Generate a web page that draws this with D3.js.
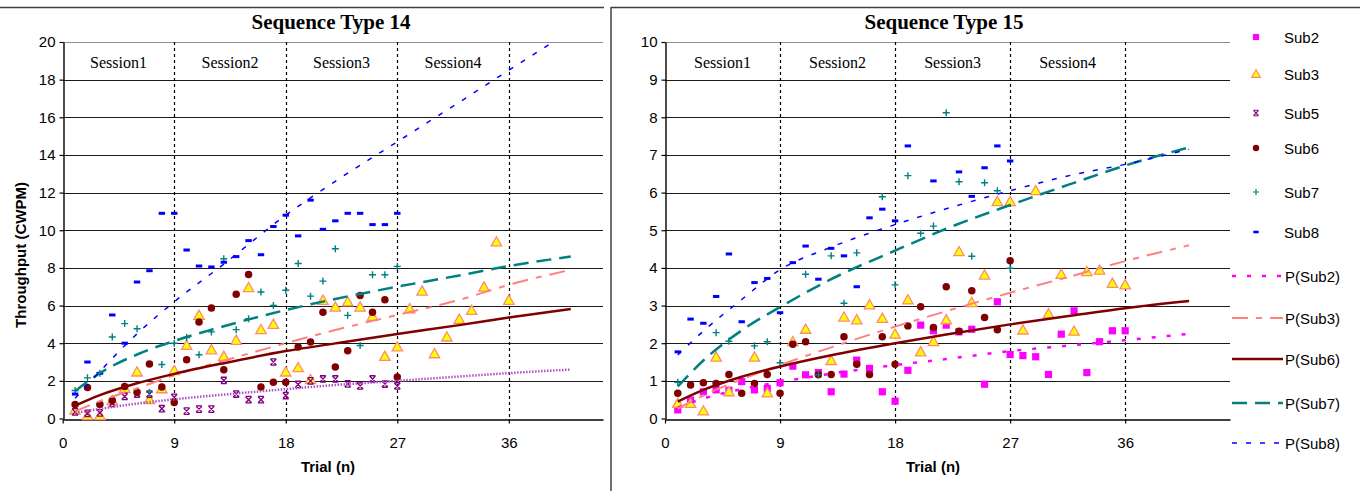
<!DOCTYPE html>
<html>
<head>
<meta charset="utf-8">
<script src="https://cdn.jsdelivr.net/npm/d3@7"></script>
<style>
  body { margin: 0; background: #fff; }
  svg { display: block; }
</style>
</head>
<body>
<script>
// ---- data ----
const trials = [1, 2, 3, 4, 5, 6, 7, 8, 9, 10, 11, 12, 13, 14, 15, 16, 17, 18,
  19, 20, 21, 22, 23, 24, 25, 26, 27, 28, 29, 30, 31, 32, 33, 34, 35, 36];
const xTicks = [0, 9, 18, 27, 36];
const sessionBreaks = [9, 18, 27, 36];
const sessionNames = ["Session1", "Session2", "Session3", "Session4"];
const sessionMids = [4.5, 13.5, 22.5, 31.5];
const yTicks14 = [0, 2, 4, 6, 8, 10, 12, 14, 16, 18, 20];
const yTicks15 = [0, 1, 2, 3, 4, 5, 6, 7, 8, 9, 10];

// Sequence Type 14 (throughput per trial)
const seq14Sub3 = [0.45, 0.15, 0.15, 0.95, 1.6, 2.47, 1.0, 1.58, 2.55, 3.88,
  5.48, 3.65, 3.3, 4.15, 6.95, 4.72, 5.0, 2.47, 2.7, 2.06,
  6.28, 5.92, 6.19, 5.92, 5.43, 3.3, 3.8, 5.83, 6.77, 3.44,
  4.33, 5.27, 5.74, 6.98, 9.38, 6.28];
const seq14Sub5 = [0.35, 0.27, 0.3, 0.8, 1.17, 1.3, 1.3, 0.52, 1.13, 0.39,
  0.5, 0.5, 2.02, 1.3, 1.0, 1.0, 3.0, 1.22, 1.81, 2.0,
  2.1, 2.1, 1.84, 1.73, 2.1, 1.83, 1.73];
const seq14Sub6 = [0.75, 1.65, 0.75, 0.95, 1.7, 1.4, 2.9, 1.67, 0.85, 3.12,
  5.12, 5.87, 2.59, 6.6, 7.65, 1.67, 1.93, 1.93, 3.8, 4.06,
  5.65, 2.73, 3.6, 6.54, 5.65, 6.31, 2.2];
const seq14Sub7 = [1.49, 2.16, 2.4, 4.33, 5.04, 4.77, 1.4, 2.87, 4.0, 4.3,
  3.39, 4.6, 8.49, 4.72, 5.3, 6.72, 6.0, 6.81, 8.23, 6.5,
  7.3, 9.02, 5.48, 3.88, 7.64, 7.64, 8.08];
const seq14Sub8 = [1.3, 3.0, 2.4, 5.5, 4.0, 7.25, 7.85, 10.9, 10.9, 8.95,
  8.1, 8.05, 8.3, 8.6, 9.45, 8.7, 10.2, 10.8, 9.7, 11.6,
  10.05, 10.5, 10.9, 10.9, 10.3, 10.3, 10.9];

// Sequence Type 15
const seq15Sub2 = [0.23, 0.49, 0.71, 0.76, 0.75, 0.98, 0.76, 0.8, 0.95, 1.39,
  1.16, 1.22, 0.71, 1.18, 1.55, 1.33, 0.71, 0.46, 1.28, 2.48,
  2.33, 2.48, 2.3, 2.37, 0.91, 3.1, 1.7, 1.67, 1.64, 1.17,
  2.24, 2.86, 1.22, 2.04, 2.33, 2.33];
const seq15Sub3 = [0.4, 0.4, 0.2, 1.63, 0.71, null, 1.63, 0.68, null, 2.04,
  2.37, null, 1.54, 2.69, 2.62, 3.02, 2.66, 2.24, 3.15, 1.77,
  2.04, 2.62, 4.43, 3.08, 3.81, 5.76, 5.76, 2.35, 6.05, 2.78,
  3.83, 2.32, 3.9, 3.94, 3.59, 3.55];
const seq15Sub6 = [0.67, 0.89, 0.95, 0.93, 1.17, 0.67, 0.93, 1.17, 0.67, 1.97,
  2.04, 1.16, 1.17, 2.17, 1.44, 1.17, 2.17, 1.44, 2.46, 2.97,
  2.42, 3.5, 2.32, 3.39, 2.68, 2.36, 4.19];
const seq15Sub7 = [0.96, null, null, 2.28, 2.05, null, 1.93, 2.04, 1.48, null,
  3.83, 1.16, 4.32, 3.06, 4.4, null, 5.89, 3.55, 6.45, 4.92,
  5.11, 8.12, 6.29, 4.31, 6.26, 6.05, 3.99];
const seq15Sub8 = [1.77, 2.64, 2.53, 3.24, 4.37, 2.57, 3.61, 3.72, 2.81, 4.14,
  4.58, 3.7, 4.52, 4.32, 3.5, 5.33, 5.56, 5.25, 7.24, null,
  6.31, null, 6.55, 5.9, 6.66, 7.24, 6.84];

// power trendlines, values read at these trials
const trendTrials = [1, 3, 6, 9, 13, 18, 22, 27, 32, 36, 41];
const seq14P3 = [0.38, 0.92, 1.6, 2.3, 3.07, 4.0, 4.7, 5.5, 6.3, 7.1, 7.9];
const seq14P5 = [0.3, 0.51, 0.79, 1.02, 1.27, 1.56, 1.78, 2.0, 2.23, 2.41, 2.6];
const seq14P6 = [0.68, 1.24, 1.87, 2.37, 2.94, 3.58, 3.99, 4.49, 4.96, 5.36, 5.82];
const seq14P7 = [1.45, 2.41, 3.4, 4.12, 4.9, 5.76, 6.35, 7.0, 7.6, 8.1, 8.6];
const seq14P8 = [1.07, 2.5, 4.5, 6.2, 8.2, 10.8, 12.6, 14.7, 16.8, 18.5, 20.6];
const seq15P2 = [0.29, 0.53, 0.78, 0.97, 1.19, 1.42, 1.58, 1.79, 1.95, 2.08, 2.25];
const seq15P3 = [0.26, 0.61, 1.04, 1.42, 1.89, 2.44, 2.85, 3.34, 3.8, 4.18, 4.6];
const seq15P6 = [0.45, 0.76, 1.11, 1.38, 1.68, 2.0, 2.23, 2.5, 2.74, 2.93, 3.12];
const seq15P7 = [0.85, 1.54, 2.34, 2.96, 3.7, 4.46, 5.04, 5.67, 6.26, 6.72, 7.2];
const seq15P8 = [1.69, 2.32, 3.16, 3.95, 4.55, 5.15, 5.57, 6.05, 6.48, 6.75, 7.15];

// ---- styles ----
const sans = "'Liberation Sans', Arial, sans-serif";
const serif = "'Liberation Serif', 'Times New Roman', serif";

const markers = {
  Sub2: { d: "M-3.6,-3.6h7.2v7.2h-7.2z", fill: "#FF00FF", stroke: "none", sw: 0 },
  Sub3: { d: "M0,-5.2L5.2,4H-5.2Z", fill: "#FFFF00", stroke: "#FF8A70", sw: 1.3 },
  Sub5: { d: "M-3,-3L3,3M-3,3L3,-3M-3,-3.2H3M-3,3.2H3", fill: "none", stroke: "#800080", sw: 1.3 },
  Sub6: { d: d3.symbol(d3.symbolCircle, 44)(), fill: "#800000", stroke: "none", sw: 0 },
  Sub7: { d: "M-3.5,0H3.5M0,-3.5V3.5", fill: "none", stroke: "#008080", sw: 1.4 },
  Sub8: { d: "M-3.2,-1.5h6.4v3h-6.4z", fill: "#0000FF", stroke: "none", sw: 0 }
};

const trendStyles = {
  P2: { color: "#FF00FF", width: 2.5, dash: "4,11" },
  P3: { color: "#FF8080", width: 2, dash: "16,8,6,8" },
  P5: { color: "#B050C8", width: 2.5, dash: "1.5,1.5" },
  P6: { color: "#800000", width: 2.5, dash: null },
  P7: { color: "#008080", width: 2.5, dash: "15,8" },
  P8: { color: "#0000FF", width: 1.5, dash: "5,9" }
};

const svg = d3.select("body").append("svg")
  .attr("width", 1360).attr("height", 491);

// panel frames
svg.append("line").attr("x1", 0).attr("x2", 604).attr("y1", 7.5).attr("y2", 7.5)
  .attr("stroke", "#404040").attr("stroke-width", 1.5);
svg.append("line").attr("x1", 611).attr("x2", 1360).attr("y1", 7.5).attr("y2", 7.5)
  .attr("stroke", "#404040").attr("stroke-width", 1.5);
svg.append("line").attr("x1", 611).attr("x2", 611).attr("y1", 7).attr("y2", 491)
  .attr("stroke", "#404040").attr("stroke-width", 1.5);

function drawPanel(cfg) {
  const x = d3.scaleLinear().domain([0, cfg.xMax]).range([cfg.left, cfg.right]);
  const y = d3.scaleLinear().domain([0, cfg.yMax]).range([418.5, 42]);
  const g = svg.append("g");

  const clipId = "clip" + cfg.id;
  g.append("clipPath").attr("id", clipId).append("rect")
    .attr("x", cfg.left).attr("y", y(cfg.yMax))
    .attr("width", cfg.right - cfg.left).attr("height", y(0) - y(cfg.yMax));

  // horizontal gridlines
  g.selectAll(".grid").data(cfg.yTicks.filter(v => v > 0)).join("line")
    .attr("x1", cfg.left).attr("x2", cfg.right)
    .attr("y1", d => Math.round(y(d)) + 0.5).attr("y2", d => Math.round(y(d)) + 0.5)
    .attr("stroke", d => d === cfg.yMax ? "#909090" : "#1a1a1a")
    .attr("stroke-width", 1.2);

  // session separators
  g.selectAll(".sess").data(sessionBreaks).join("line")
    .attr("x1", d => Math.round(x(d)) + 0.5).attr("x2", d => Math.round(x(d)) + 0.5)
    .attr("y1", y(cfg.yMax)).attr("y2", y(0))
    .attr("stroke", "#000").attr("stroke-width", 1.2).attr("stroke-dasharray", "3,3");

  g.selectAll(".sessLabel").data(sessionNames).join("text")
    .attr("x", (d, i) => x(sessionMids[i])).attr("y", 68)
    .attr("text-anchor", "middle").attr("font-family", serif).attr("font-size", 16)
    .text(d => d);

  // axes
  const yAxis = d3.axisLeft(y).tickValues(cfg.yTicks).tickSize(4).tickSizeOuter(0).tickPadding(4);
  const gy = g.append("g").attr("transform", `translate(${Math.round(cfg.left) + 0.5},0)`).call(yAxis);
  const xAxis = d3.axisBottom(x).tickValues(xTicks).tickSize(4).tickSizeOuter(0).tickPadding(14);
  const gx = g.append("g").attr("transform", `translate(0,${Math.round(y(0)) + 0.5})`).call(xAxis);
  [gx, gy].forEach(a => {
    a.select(".domain").attr("stroke", "#000").attr("stroke-width", 1.4);
    a.selectAll(".tick line").attr("stroke", "#000").attr("stroke-width", 1.2);
    a.selectAll("text").attr("font-family", sans).attr("font-size", 15).attr("fill", "#000");
  });

  // scatter points
  cfg.points.forEach(s => {
    const m = markers[s.key];
    const pts = trials.map((t, i) => [t, s.values[i]])
      .filter(p => p[1] !== undefined && p[1] !== null);
    g.append("g").selectAll("path").data(pts).join("path")
      .attr("transform", p => `translate(${x(p[0])},${y(p[1])})`)
      .attr("d", m.d).attr("fill", m.fill).attr("stroke", m.stroke)
      .attr("stroke-width", m.sw);
  });

  // trendlines
  const line = d3.line().x(p => x(p[0])).y(p => y(p[1])).curve(d3.curveMonotoneX);
  cfg.trends.forEach(t => {
    const st = trendStyles[t.key];
    g.append("path")
      .datum(trendTrials.map((n, i) => [n, t.values[i]]))
      .attr("clip-path", `url(#${clipId})`)
      .attr("d", line).attr("fill", "none")
      .attr("stroke", st.color).attr("stroke-width", st.width)
      .attr("stroke-dasharray", st.dash);
  });

  // titles
  g.append("text").attr("x", cfg.titleX).attr("y", 29)
    .attr("text-anchor", "middle").attr("font-family", serif)
    .attr("font-weight", "bold").attr("font-size", 21).text(cfg.title);
  g.append("text").attr("x", cfg.xLabelX).attr("y", 472)
    .attr("text-anchor", "middle").attr("font-family", sans)
    .attr("font-weight", "bold").attr("font-size", 15).text("Trial (n)");
  if (cfg.yLabel) {
    g.append("text").attr("transform", "translate(26,255) rotate(-90)")
      .attr("text-anchor", "middle").attr("font-family", sans)
      .attr("font-weight", "bold").attr("font-size", 15).text(cfg.yLabel);
  }
}

drawPanel({
  id: 14, left: 62.7, right: 603, xMax: 43.6, yMax: 20, yTicks: yTicks14,
  title: "Sequence Type 14", titleX: 331, xLabelX: 328, yLabel: "Throughput (CWPM)",
  points: [
    { key: "Sub3", values: seq14Sub3 },
    { key: "Sub5", values: seq14Sub5 },
    { key: "Sub6", values: seq14Sub6 },
    { key: "Sub7", values: seq14Sub7 },
    { key: "Sub8", values: seq14Sub8 }
  ],
  trends: [
    { key: "P3", values: seq14P3 },
    { key: "P5", values: seq14P5 },
    { key: "P6", values: seq14P6 },
    { key: "P7", values: seq14P7 },
    { key: "P8", values: seq14P8 }
  ]
});

drawPanel({
  id: 15, left: 665, right: 1230, xMax: 44.2, yMax: 10, yTicks: yTicks15,
  title: "Sequence Type 15", titleX: 944, xLabelX: 933, yLabel: null,
  points: [
    { key: "Sub2", values: seq15Sub2 },
    { key: "Sub3", values: seq15Sub3 },
    { key: "Sub6", values: seq15Sub6 },
    { key: "Sub7", values: seq15Sub7 },
    { key: "Sub8", values: seq15Sub8 }
  ],
  trends: [
    { key: "P2", values: seq15P2 },
    { key: "P3", values: seq15P3 },
    { key: "P6", values: seq15P6 },
    { key: "P7", values: seq15P7 },
    { key: "P8", values: seq15P8 }
  ]
});

// legend
const legendMarkers = [
  { key: "Sub2", y: 37 }, { key: "Sub3", y: 74 }, { key: "Sub5", y: 113 },
  { key: "Sub6", y: 148 }, { key: "Sub7", y: 192 }, { key: "Sub8", y: 232 }
];
const legendLines = [
  { key: "P2", label: "P(Sub2)", y: 276 }, { key: "P3", label: "P(Sub3)", y: 318 },
  { key: "P6", label: "P(Sub6)", y: 359 }, { key: "P7", label: "P(Sub7)", y: 403 },
  { key: "P8", label: "P(Sub8)", y: 443 }
];
const lg = svg.append("g");
legendMarkers.forEach(l => {
  const m = markers[l.key];
  lg.append("path").attr("transform", `translate(1256,${l.y}) scale(0.85)`)
    .attr("d", m.d).attr("fill", m.fill).attr("stroke", m.stroke).attr("stroke-width", m.sw);
  lg.append("text").attr("x", 1284).attr("y", l.y + 5.5)
    .attr("font-family", sans).attr("font-size", 15).text(l.key);
});
legendLines.forEach(l => {
  const st = trendStyles[l.key];
  lg.append("line").attr("x1", 1232).attr("x2", 1283).attr("y1", l.y).attr("y2", l.y)
    .attr("stroke", st.color).attr("stroke-width", st.width).attr("stroke-dasharray", st.dash);
  lg.append("text").attr("x", 1285).attr("y", l.y + 5.5)
    .attr("font-family", sans).attr("font-size", 15).text(l.label);
});
</script>
</body>
</html>
